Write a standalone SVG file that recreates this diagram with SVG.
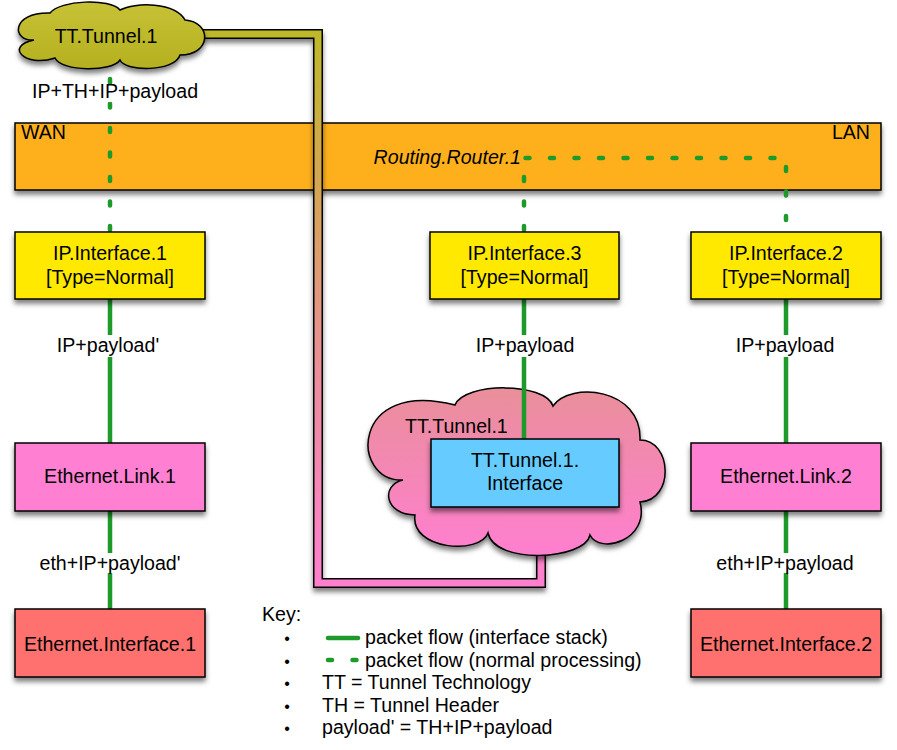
<svg xmlns="http://www.w3.org/2000/svg" width="897" height="750" viewBox="0 0 897 750">
<defs>
<filter id="sh" x="-10%" y="-10%" width="125%" height="140%">
<feDropShadow dx="0" dy="4" stdDeviation="2.5" flood-color="#000" flood-opacity="0.5"/>
</filter>
<linearGradient id="pipeG" gradientUnits="userSpaceOnUse" x1="0" y1="30" x2="0" y2="590">
<stop offset="0" stop-color="#BEB92A"/>
<stop offset="0.3" stop-color="#D6A457"/>
<stop offset="0.62" stop-color="#EC8D9C"/>
<stop offset="1" stop-color="#FF7FD0"/>
</linearGradient>
<linearGradient id="cloud1G" x1="0" y1="0" x2="0" y2="1">
<stop offset="0" stop-color="#C7C236"/>
<stop offset="1" stop-color="#B5B01F"/>
</linearGradient>
<linearGradient id="cloud2G" x1="0" y1="0" x2="0" y2="1">
<stop offset="0" stop-color="#E98F9A"/>
<stop offset="1" stop-color="#FF7FD0"/>
</linearGradient>
<style>
.box{stroke:#000;stroke-width:1.5;filter:url(#sh)}
.t{font-family:"Liberation Sans",Arial,Helvetica,sans-serif;font-size:19.6px;fill:#000}
.c{text-anchor:middle}
.solid{stroke:#1E9A2A;stroke-width:4.5;fill:none}
.dash{stroke:#1E9A2A;stroke-width:4.5;fill:none;stroke-dasharray:4 20.5;stroke-linecap:round}
.bg{fill:#fff}
.yellow{fill:#FFE900}
.link{fill:#FF80D3}
.eth{fill:#FF716E}
.bul{font-size:16px}
</style>
</defs>
<rect width="897" height="750" fill="#fff"/>

<g id="router">
<rect class="box" x="15" y="123" width="866" height="67" fill="#FDB01C"/>
<text class="t" x="21" y="139">WAN</text>
<text class="t" x="870" y="139" text-anchor="end">LAN</text>
<text class="t" x="521" y="164" text-anchor="end" font-style="italic">Routing.Router.1</text>
</g>

<g id="tunnel-pipe" filter="url(#sh)">
<path d="M190,34 H318 V583 H541 V545" fill="none" stroke="#000" stroke-width="10"/>
<path d="M190,34 H318 V583 H541 V545" fill="none" stroke="url(#pipeG)" stroke-width="7"/>
</g>

<g id="tt-tunnel-wan">
<path class="box" fill="url(#cloud1G)" d="M34,40 C12,42 10,12 50,13 C60,0 110,-2 120,10 C135,2 175,2 185,20 C212,22 212,55 180,55 C175,72 125,72 120,60 C112,72 62,72 55,58 C25,68 4,46 34,40 Z"/>
<text class="t c" x="106" y="43">TT.Tunnel.1</text>
</g>

<g id="tt-tunnel-lan">
<path class="box" fill="url(#cloud2G)" d="M403,480 C350,482 350,378 455,405 C465,382 545,382 553,406 C570,381 642,388 640,440 C672,440 675,500 640,502 C650,540 600,555 590,535 C585,560 495,565 488,533 C480,555 410,550 415,515 C385,515 380,485 403,480 Z"/>
<text class="t" x="405" y="433">TT.Tunnel.1</text>
</g>

<g id="connectors">
<path class="dash" d="M110,230 V70"/>
<path class="dash" d="M524,230 V158 H786 V230"/>
<path class="solid" d="M110,299 V443"/>
<path class="solid" d="M110,511 V609"/>
<path class="solid" d="M524,299 V439"/>
<path class="solid" d="M786,299 V443"/>
<path class="solid" d="M786,511 V609"/>
<rect class="bg" x="31" y="84" width="168" height="18"/>
<text class="t c" x="115" y="98">IP+TH+IP+payload</text>
<rect class="bg" x="56" y="335" width="104" height="22"/>
<text class="t c" x="108" y="352">IP+payload'</text>
<rect class="bg" x="473" y="335" width="104" height="22"/>
<text class="t c" x="525" y="352">IP+payload</text>
<rect class="bg" x="734" y="335" width="104" height="22"/>
<text class="t c" x="785" y="352">IP+payload</text>
<rect class="bg" x="26" y="553" width="168" height="20"/>
<text class="t c" x="110" y="570">eth+IP+payload'</text>
<rect class="bg" x="714" y="553" width="144" height="20"/>
<text class="t c" x="785" y="570">eth+IP+payload</text>
</g>

<g id="ip-interface-1">
<rect class="box yellow" x="15" y="232" width="190" height="67"/>
<text class="t c" x="110" y="260">IP.Interface.1</text>
<text class="t c" x="110" y="284">[Type=Normal]</text>
</g>
<g id="ip-interface-3">
<rect class="box yellow" x="430" y="232" width="189" height="67"/>
<text class="t c" x="524.5" y="260">IP.Interface.3</text>
<text class="t c" x="524.5" y="284">[Type=Normal]</text>
</g>
<g id="ip-interface-2">
<rect class="box yellow" x="691" y="232" width="190" height="67"/>
<text class="t c" x="786" y="260">IP.Interface.2</text>
<text class="t c" x="786" y="284">[Type=Normal]</text>
</g>

<g id="tt-tunnel-interface">
<rect class="box" x="431" y="439" width="188" height="68" fill="#66CCFF"/>
<text class="t c" x="525" y="467">TT.Tunnel.1.</text>
<text class="t c" x="525" y="490">Interface</text>
</g>

<g id="ethernet-link-1">
<rect class="box link" x="15" y="443" width="190" height="68"/>
<text class="t c" x="110" y="483">Ethernet.Link.1</text>
</g>
<g id="ethernet-link-2">
<rect class="box link" x="691" y="443" width="190" height="68"/>
<text class="t c" x="786" y="483">Ethernet.Link.2</text>
</g>

<g id="ethernet-interface-1">
<rect class="box eth" x="15" y="609" width="190" height="68"/>
<text class="t c" x="110" y="651">Ethernet.Interface.1</text>
</g>
<g id="ethernet-interface-2">
<rect class="box eth" x="691" y="609" width="190" height="68"/>
<text class="t c" x="786" y="651">Ethernet.Interface.2</text>
</g>

<g id="key">
<text class="t" x="262" y="621">Key:</text>
<text class="t c bul" x="287" y="644">•</text>
<text class="t c bul" x="287" y="667">•</text>
<text class="t c bul" x="287" y="689">•</text>
<text class="t c bul" x="287" y="712">•</text>
<text class="t c bul" x="287" y="734">•</text>
<path class="solid" d="M328,638 H358" stroke-linecap="round"/>
<path class="dash" d="M328,660 H357"/>
<text class="t" x="365" y="644">packet flow (interface stack)</text>
<text class="t" x="365" y="667">packet flow (normal processing)</text>
<text class="t" x="322" y="689">TT = Tunnel Technology</text>
<text class="t" x="322" y="712">TH = Tunnel Header</text>
<text class="t" x="322" y="734">payload' = TH+IP+payload</text>
</g>
</svg>
